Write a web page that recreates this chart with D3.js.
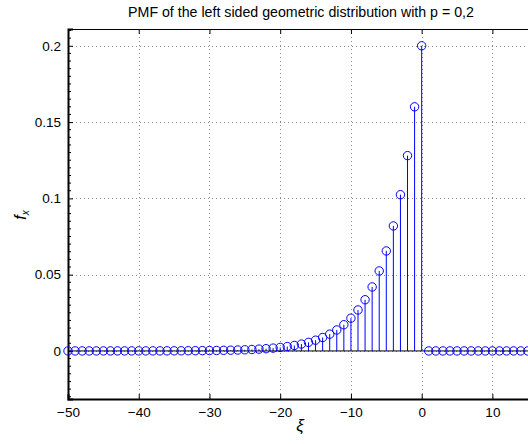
<!DOCTYPE html>
<html><head><meta charset="utf-8">
<script src="https://cdn.jsdelivr.net/npm/d3@7"></script>
<style>
html,body{margin:0;padding:0;background:#fff;overflow:hidden;}
text{font-family:"Liberation Sans",Arial,Helvetica,sans-serif;}
</style></head>
<body>
<script>
// x positions (ξ) and PMF values
const xiValues = d3.range(-50, 21);
const pmfValues = [
  0.000003,0.000004,0.000005,0.000006,0.000007,0.000009,0.000011,0.000014,0.000017,0.000021,
  0.000027,0.000033,0.000042,0.000052,0.000065,0.000081,0.000101,0.000127,0.000158,0.000198,
  0.000248,0.000309,0.000387,0.000484,0.000604,0.000756,0.000944,0.001181,0.001476,0.001845,
  0.002306,0.002882,0.003603,0.004504,0.005629,0.007037,0.008796,0.010995,0.013744,0.01718,
  0.021475,0.026844,0.033554,0.041943,0.052429,0.065536,0.08192,0.1024,0.128,0.16,0.2,
  0,0,0,0,0,0,0,0,0,0,0,0,0,0,0,0,0,0,0,0
];
const xTicks = [-50,-40,-30,-20,-10,0,10];
const yTicks = [0,0.05,0.1,0.15,0.2];
const titleText = "PMF of the left sided geometric distribution with p = 0,2";

const W = 528, H = 444;
const svg = d3.select("body").append("svg").attr("width", W).attr("height", H)
  .style("background","#fff");

const x = d3.scaleLinear().domain([-50, 15.6]).range([68, 532]);
const y = d3.scaleLinear().domain([-0.0315, 0.211]).range([399, 29]);
const x0 = x.range()[0], x1 = x.range()[1], y0 = y.range()[0], y1 = y.range()[1];

// grid
const grid = svg.append("g").attr("stroke","#8c8c8c").attr("stroke-width",1).attr("stroke-dasharray","1,3");
grid.selectAll(".gx").data(xTicks.filter(t=>t>-50)).enter().append("line")
  .attr("x1",d=>Math.round(x(d))+0.5).attr("x2",d=>Math.round(x(d))+0.5).attr("y1",y1).attr("y2",y0);
grid.selectAll(".gy").data(yTicks).enter().append("line")
  .attr("y1",d=>Math.round(y(d))+0.5).attr("y2",d=>Math.round(y(d))+0.5).attr("x1",x0).attr("x2",x1);

const data = xiValues.map((v,i)=>({x:v, y:pmfValues[i]}));

// stems
svg.append("g").selectAll("line").data(data.filter(d=>d.y>0)).enter().append("line")
  .attr("x1",d=>x(d.x)).attr("x2",d=>x(d.x)).attr("y1",y(0)).attr("y2",d=>y(d.y))
  .attr("stroke","#0000ff").attr("stroke-width",1);

// baseline
svg.append("line").attr("x1",x0).attr("x2",x1).attr("y1",y(0)).attr("y2",y(0))
  .attr("stroke","#000").attr("stroke-width",1);

// axes
const axB = d3.axisBottom(x).tickValues(xTicks).tickSize(-5).tickPadding(8)
  .tickFormat(d=>d3.format("")(d).replace("-","\u2212"));
const gB = svg.append("g").attr("transform",`translate(0,${y0})`).call(axB);
const axT = d3.axisTop(x).tickValues(xTicks).tickSize(-5).tickFormat("");
const gT = svg.append("g").attr("transform",`translate(0,${y1})`).call(axT);
const axL = d3.axisLeft(y).tickValues(yTicks).tickSize(-5).tickPadding(7)
  .tickFormat(d=>d===0?"0":d3.format("")(d));
const gL = svg.append("g").attr("transform",`translate(${x0},0)`).call(axL);
// minor y ticks
const minor = d3.range(-30,212,5).map(v=>v/1000).filter(v=>!yTicks.some(t=>Math.abs(t-v)<1e-9));
svg.append("g").selectAll("line").data(minor).enter().append("line")
  .attr("x1",x0).attr("x2",x0+3).attr("y1",d=>y(d)).attr("y2",d=>y(d))
  .attr("stroke","#000").attr("stroke-width",1);

[gB,gT,gL].forEach(g=>{
  g.select(".domain").attr("stroke","#000");
  g.selectAll(".tick line").attr("stroke","#000");
  g.selectAll("text").attr("font-family","Liberation Sans, Arial, sans-serif").attr("font-size",13.5).attr("fill","#000");
});
gB.select(".domain").attr("stroke-width",2);
gL.select(".domain").attr("stroke-width",2);

// markers
svg.append("g").selectAll("circle").data(data).enter().append("circle")
  .attr("cx",d=>x(d.x)).attr("cy",d=>y(d.y)).attr("r",4.2)
  .attr("fill","none").attr("stroke","#0000ff").attr("stroke-width",1);

// title
svg.append("text").attr("x",301).attr("y",17).attr("text-anchor","middle")
  .attr("font-size",14.2).text(titleText);

// labels
const yl = svg.append("text").attr("transform","translate(26,215) rotate(-90)")
  .attr("text-anchor","middle").attr("font-family","Liberation Serif, Times New Roman, serif")
  .attr("font-style","italic").attr("font-size",16);
yl.append("tspan").text("f");
yl.append("tspan").attr("font-size",10).attr("dy",3).text("x");

svg.append("text").attr("x",300).attr("y",431).attr("text-anchor","middle")
  .attr("font-family","Liberation Serif, Times New Roman, serif").attr("font-style","italic")
  .attr("font-size",17).text("\u03be");
</script>
</body></html>
